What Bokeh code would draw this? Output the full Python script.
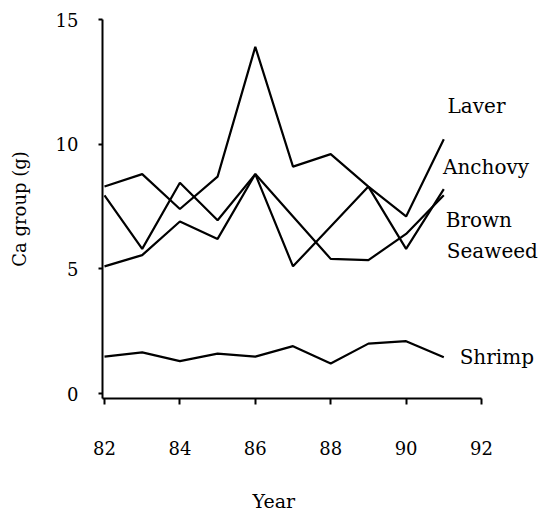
from bokeh.plotting import figure
from bokeh.models import Range1d, FixedTicker, Label, Title
from bokeh.embed import file_html
from bokeh.resources import INLINE

years = [82, 83, 84, 85, 86, 87, 88, 89, 90, 91]
laver = [8.3, 8.8, 7.4, 8.7, 13.9, 9.1, 9.6, 8.3, 7.1, 10.2]
anchovy = [7.95, 5.8, 8.45, 6.95, 8.8, 5.1, 6.7, 8.3, 5.8, 8.2]
brown_seaweed = [5.1, 5.55, 6.9, 6.2, 8.8, 7.1, 5.4, 5.35, 6.4, 7.95]
shrimp = [1.48, 1.65, 1.3, 1.6, 1.48, 1.9, 1.2, 2.0, 2.1, 1.45]

x_ticks = [82, 84, 86, 88, 90, 92]
y_ticks = [0, 5, 10, 15]

series_labels = ["Laver", "Anchovy", "Brown", "Seaweed", "Shrimp"]
label_x = [91.1, 90.98, 91.05, 91.08, 91.42]
label_y = [11.55, 9.07, 6.94, 5.7, 1.45]

FONT = "DejaVu Serif"

p = figure(width=540, height=513,
           min_border_left=102, min_border_right=0, min_border_top=19,
           min_border_bottom=115, output_backend="svg", toolbar_location=None,
           x_range=Range1d(81.947, 93.565), y_range=Range1d(-0.2, 15.0))

p.background_fill_color = "white"
p.border_fill_color = "white"
p.outline_line_color = None
p.grid.visible = False

for ys in [laver, anchovy, brown_seaweed, shrimp]:
    p.line(years, ys, line_color="black", line_width=2.2)

p.xaxis.ticker = FixedTicker(ticks=x_ticks)
p.yaxis.ticker = FixedTicker(ticks=y_ticks)
p.xaxis.bounds = (81.947, 92.0)
for ax in [p.xaxis[0], p.yaxis[0]]:
    ax.axis_line_color = "black"
    ax.axis_line_width = 2
    ax.major_tick_line_color = "black"
    ax.major_tick_line_width = 2
    ax.major_tick_in = 0
    ax.minor_tick_line_color = None
    ax.major_label_text_font = FONT
    ax.major_label_text_font_size = "18px"
    ax.major_label_text_color = "black"
    ax.axis_label_text_font = FONT
    ax.axis_label_text_font_size = "18px"
    ax.axis_label_text_font_style = "normal"
    ax.axis_label_text_color = "black"

p.xaxis.major_tick_out = 6
p.xaxis.major_label_standoff = 36

p.yaxis.major_tick_out = 4
p.yaxis.major_label_standoff = 20
p.yaxis.axis_label = "Ca group (g)"
p.yaxis.axis_label_standoff = 23

# spacer between tick labels and the "Year" title
p.add_layout(Title(text=" ", text_font_size="1px", standoff=26), "below")
p.add_layout(Title(text="Year", align="left", offset=150, text_font=FONT,
                   text_font_size="19px", text_font_style="normal",
                   text_color="black", standoff=2), "below")

for t, lx, ly in zip(series_labels, label_x, label_y):
    p.add_layout(Label(x=lx, y=ly, text=t, text_font=FONT, text_font_size="20px",
                       text_color="black", text_baseline="middle", text_align="left"))

open("out.html", "w").write(file_html(p, INLINE))
